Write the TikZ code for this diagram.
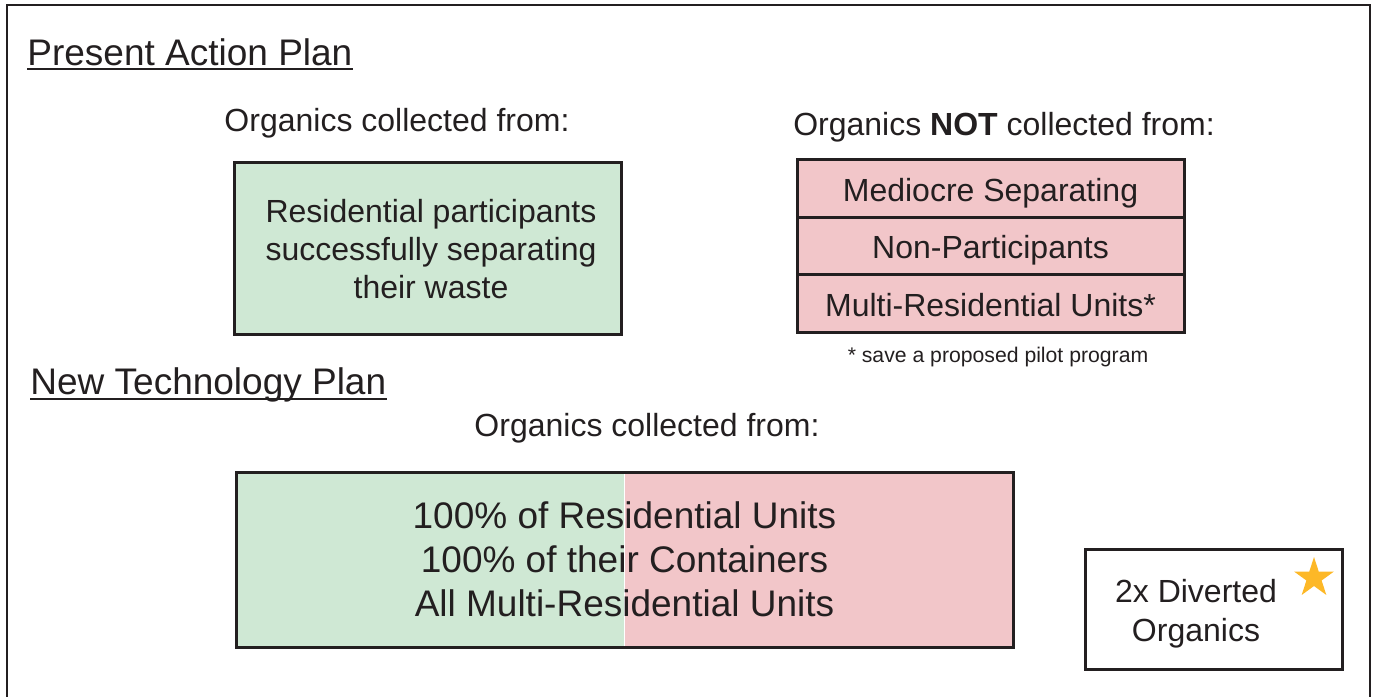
\documentclass[tikz,border=0pt]{standalone}
\usepackage{fontspec}
\setmainfont{Liberation Sans}
\usetikzlibrary{positioning,shapes.geometric,backgrounds}
\definecolor{inkGray}{HTML}{231F20}
\definecolor{keepGreen}{HTML}{CFE8D4}
\definecolor{missPink}{HTML}{F2C6C9}
\definecolor{starGold}{HTML}{FDB827}

\begin{document}
\begin{tikzpicture}[
  x=0.5pt, y=-0.5pt,
  text=inkGray,
  %% Text styles
  title/.style={inner sep=0pt, anchor=base west,
                font=\fontsize{18.5}{22}\selectfont},
  label/.style={inner sep=0pt, anchor=base,
                font=\fontsize{16}{19}\selectfont},
  uline/.style={draw=inkGray, line width=0.9pt},
  %% Box styles
  keepbox/.style={
    draw=inkGray, fill=keepGreen, line width=1.5pt,
    minimum width=193.5pt, minimum height=86pt,
    align=center, font=\fontsize{16}{19}\selectfont
  },
  missrow/.style={
    draw=inkGray, fill=missPink, line width=1.5pt, outer sep=0pt,
    minimum width=193.5pt, minimum height=28.8pt,
    text height=12.5pt, text depth=0pt,
    font=\fontsize{16}{19}\selectfont
  },
  newbox/.style={
    draw=inkGray, line width=1.5pt,
    minimum width=388.5pt, minimum height=87.5pt,
    align=center, font=\fontsize{18.5}{22}\selectfont
  },
  resultbox/.style={
    draw=inkGray, line width=1.5pt,
    minimum width=128.5pt, minimum height=60pt
  },
]
\useasboundingbox (0,0) rectangle (1375,696);

%% ── Frame ──────────────────────────────────────────────────────────────────
\draw[inkGray, line width=1.3pt] (7,700) -- (7,5) -- (1370,5) -- (1370,700);

%% ── Present action plan ────────────────────────────────────────────────────
\node[title] (ptitle) at (27,65) {Present Action Plan};
\draw[uline] ([yshift=-2pt]ptitle.base west) -- ([yshift=-2pt]ptitle.base east);

\node[label] (plabel) at (397,131) {Organics collected from:};
\node[keepbox] (pkeep) at (427.5,248) {};
\node[align=center, font=\fontsize{16}{19}\selectfont] (pkeeptext) at (431,249)
  {Residential participants\\successfully separating\\their waste};

\node[label] (nlabel) at (1004,135) {Organics \textbf{NOT} collected from:};
\node[missrow] (mediocre) at (990.5,188.5) {Mediocre Separating};
\node[missrow, below=0pt of mediocre] (nonpart) {Non-Participants};
\node[missrow, below=0pt of nonpart] (multi) {Multi-Residential Units*};
\node[inner sep=0pt, font=\fontsize{10.6}{12}\selectfont]
  (pilot) at (998,357) {* save a proposed pilot program};

%% ── New technology plan ────────────────────────────────────────────────────
\node[title] (ntitle) at (30,394) {New Technology Plan};
\draw[uline] ([yshift=-2.5pt]ntitle.base west) -- ([yshift=-2.5pt]ntitle.base east);

\node[label] (tlabel) at (647,436) {Organics collected from:};
\node[newbox] (tbox) at (624.5,559.5)
  {100\% of Residential Units\\100\% of their Containers\\All Multi-Residential Units};
\begin{scope}[on background layer]
  \fill[missPink] (tbox.south west) rectangle (tbox.north east);
  \fill[keepGreen] (tbox.south west) rectangle (tbox.north);
  \draw[white, line width=0.8pt] (tbox.south) -- (tbox.north);
\end{scope}

%% ── Result ─────────────────────────────────────────────────────────────────
\node[resultbox] (result) at (1213.5,609) {};
\node[align=center, font=\fontsize{16}{19.5}\selectfont]
  (rtext) at (1196,614) {2x Diverted\\Organics};
\node[star, star points=5, star point ratio=2.618, fill=starGold,
      inner sep=0pt, minimum size=21pt] (rstar) at (1314,578) {};

\end{tikzpicture}
\end{document}
